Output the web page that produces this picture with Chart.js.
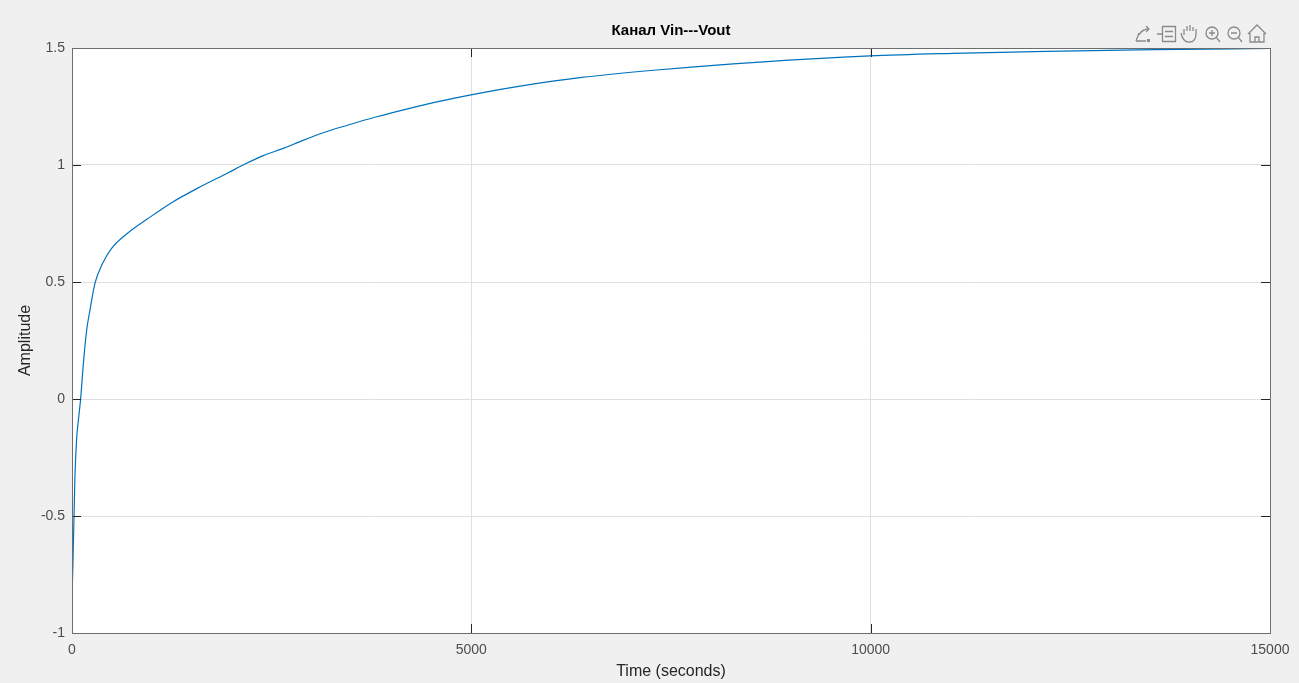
<!DOCTYPE html>
<html>
<head>
<meta charset="utf-8">
<title>Канал Vin---Vout</title>
<script src="https://cdn.jsdelivr.net/npm/chart.js@4/dist/chart.umd.min.js"></script>
<style>
    html, body { margin: 0; padding: 0; background: #f0f0f0; }
    #wrap { width: 1299px; height: 683px; position: relative; }
</style>
</head>
<body>
<div id="wrap"><canvas id="step-chart"></canvas></div>
<script>
// Значения
const timeValues = [0, 12, 24, 37, 58, 80, 108, 142, 184, 225, 288, 384, 496, 684, 955, 1247, 1568, 1956, 2166, 2395, 2646, 2854, 3146, 3459, 3814, 4189, 4628, 5044, 5650, 6360, 7320, 8613, 9990, 11030, 12200, 13540, 15000];
const amplitudeValues = [-0.85, -0.70, -0.52, -0.33, -0.17, -0.09, 0.0, 0.15, 0.295, 0.38, 0.495, 0.58, 0.644, 0.705, 0.772, 0.839, 0.90, 0.967, 1.004, 1.04, 1.071, 1.10, 1.138, 1.171, 1.206, 1.239, 1.274, 1.303, 1.339, 1.373, 1.406, 1.440, 1.466, 1.477, 1.486, 1.493, 1.498];
const xTickValues = [0, 5000, 10000, 15000];
const yTickValues = [-1, -0.5, 0, 0.5, 1, 1.5];

const FONT = '"Liberation Sans", Arial, Helvetica, sans-serif';

// Белое поле графика, рамка и внутренние засечки как в MATLAB
const axesBoxPlugin = {
    id: 'axesBox',
    beforeDraw(chart) {
        const { ctx, chartArea: a } = chart;
        ctx.save();
        ctx.fillStyle = '#ffffff';
        ctx.fillRect(a.left, a.top, a.right - a.left, a.bottom - a.top);
        ctx.restore();
    },
    afterDatasetsDraw(chart) {
        const { ctx, chartArea: a, scales } = chart;
        ctx.save();
        ctx.strokeStyle = '#262626';
        ctx.lineWidth = 1;
        const len = 9;
        ctx.beginPath();
        yTickValues.forEach(v => {
            const y = Math.round(scales.y.getPixelForValue(v)) + 0.5;
            ctx.moveTo(a.left, y); ctx.lineTo(a.left + len, y);
            ctx.moveTo(a.right, y); ctx.lineTo(a.right - len, y);
        });
        xTickValues.forEach(v => {
            const x = Math.round(scales.x.getPixelForValue(v)) + 0.5;
            ctx.moveTo(x, a.bottom); ctx.lineTo(x, a.bottom - len);
            ctx.moveTo(x, a.top); ctx.lineTo(x, a.top + len);
        });
        ctx.stroke();
        ctx.strokeStyle = '#6e6e6e';
        ctx.strokeRect(Math.round(a.left) + 0.5, Math.round(a.top) + 0.5,
            Math.round(a.right - a.left), Math.round(a.bottom - a.top));
        ctx.restore();
    },
    afterDraw(chart) {
        // Панель инструментов в правом верхнем углу
        const ctx = chart.ctx;
        ctx.save();
        ctx.strokeStyle = '#8a8a8a';
        ctx.fillStyle = '#8a8a8a';
        ctx.lineWidth = 1.3;
        const cy = 34;

        // экспорт
        ctx.beginPath();
        ctx.moveTo(1136, cy + 7); ctx.lineTo(1146, cy + 7);
        ctx.moveTo(1136, cy + 7); ctx.lineTo(1139, cy - 1);
        ctx.moveTo(1139, cy + 1); ctx.quadraticCurveTo(1142, cy - 5, 1149, cy - 5);
        ctx.moveTo(1146, cy - 8); ctx.lineTo(1149, cy - 5); ctx.lineTo(1146, cy - 2);
        ctx.stroke();
        ctx.fillRect(1147, cy + 5, 3, 3);

        // легенда
        ctx.beginPath();
        ctx.rect(1162.5, cy - 7.5, 13, 15);
        ctx.moveTo(1165, cy - 2.5); ctx.lineTo(1173, cy - 2.5);
        ctx.moveTo(1165, cy + 2.5); ctx.lineTo(1173, cy + 2.5);
        ctx.moveTo(1162, cy); ctx.lineTo(1157, cy);
        ctx.stroke();

        // рука
        ctx.beginPath();
        ctx.moveTo(1184, cy + 1);
        ctx.lineTo(1184, cy - 5); ctx.moveTo(1187, cy - 3);
        ctx.lineTo(1187, cy - 8); ctx.moveTo(1190, cy - 3);
        ctx.lineTo(1190, cy - 9); ctx.moveTo(1193, cy - 3);
        ctx.lineTo(1193, cy - 7); ctx.moveTo(1196, cy - 1);
        ctx.lineTo(1196, cy - 5);
        ctx.moveTo(1181, cy - 1);
        ctx.quadraticCurveTo(1183, cy + 9, 1190, cy + 8);
        ctx.quadraticCurveTo(1196, cy + 8, 1196, cy - 1);
        ctx.stroke();

        // лупы
        [[1212, '+'], [1234, '-']].forEach(([x, sign]) => {
            ctx.beginPath();
            ctx.arc(x, cy - 1, 6, 0, Math.PI * 2);
            ctx.moveTo(x + 4, cy + 3); ctx.lineTo(x + 8, cy + 8);
            ctx.moveTo(x - 3, cy - 1); ctx.lineTo(x + 3, cy - 1);
            if (sign === '+') { ctx.moveTo(x, cy - 4); ctx.lineTo(x, cy + 2); }
            ctx.stroke();
        });

        // домой
        ctx.beginPath();
        ctx.moveTo(1248, cy); ctx.lineTo(1257, cy - 9); ctx.lineTo(1266, cy);
        ctx.moveTo(1250, cy - 1); ctx.lineTo(1250, cy + 8); ctx.lineTo(1264, cy + 8); ctx.lineTo(1264, cy - 1);
        ctx.moveTo(1255, cy + 8); ctx.lineTo(1255, cy + 3); ctx.lineTo(1259, cy + 3); ctx.lineTo(1259, cy + 8);
        ctx.stroke();
        ctx.restore();
    }
};

const points = timeValues.map((t, i) => ({ x: t, y: amplitudeValues[i] }));

new Chart(document.getElementById('step-chart'), {
    type: 'line',
    data: {
        datasets: [{
            data: points,
            borderColor: '#0072bd',
            borderWidth: 1.2,
            pointRadius: 0,
            fill: false,
            cubicInterpolationMode: 'monotone'
        }]
    },
    plugins: [axesBoxPlugin],
    options: {
        responsive: true,
        maintainAspectRatio: false,
        animation: false,
        layout: { padding: { left: 0, right: 29, top: 0, bottom: 0 } },
        plugins: {
            legend: { display: false },
            tooltip: { enabled: false },
            title: {
                display: true,
                text: 'Канал Vin---Vout',
                fullSize: false,
                color: '#000000',
                font: { family: FONT, size: 15, weight: 'bold' },
                padding: { top: 22, bottom: 8 }
            }
        },
        scales: {
            x: {
                type: 'linear',
                min: 0,
                max: 15000,
                afterBuildTicks: scale => { scale.ticks = xTickValues.map(v => ({ value: v })); },
                afterFit: scale => { scale.height = 50; },
                ticks: {
                    color: '#4d4d4d',
                    font: { family: FONT, size: 14 },
                    padding: 9,
                    maxRotation: 0,
                    callback: v => String(v)
                },
                grid: { color: '#e0e0e0', drawTicks: false },
                border: { display: false },
                title: {
                    display: true,
                    text: 'Time (seconds)',
                    color: '#262626',
                    font: { family: FONT, size: 16 },
                    padding: { top: 0, bottom: 2 }
                }
            },
            y: {
                min: -1,
                max: 1.5,
                afterBuildTicks: scale => { scale.ticks = yTickValues.map(v => ({ value: v })); },
                afterFit: scale => { scale.width = 72; },
                ticks: {
                    color: '#4d4d4d',
                    font: { family: FONT, size: 14 },
                    padding: 7,
                    callback: v => String(v)
                },
                grid: { color: '#e0e0e0', drawTicks: false },
                border: { display: false },
                title: {
                    display: true,
                    text: 'Amplitude',
                    color: '#262626',
                    font: { family: FONT, size: 16 },
                    padding: { top: 16, bottom: 0 }
                }
            }
        }
    }
});
</script>
</body>
</html>
